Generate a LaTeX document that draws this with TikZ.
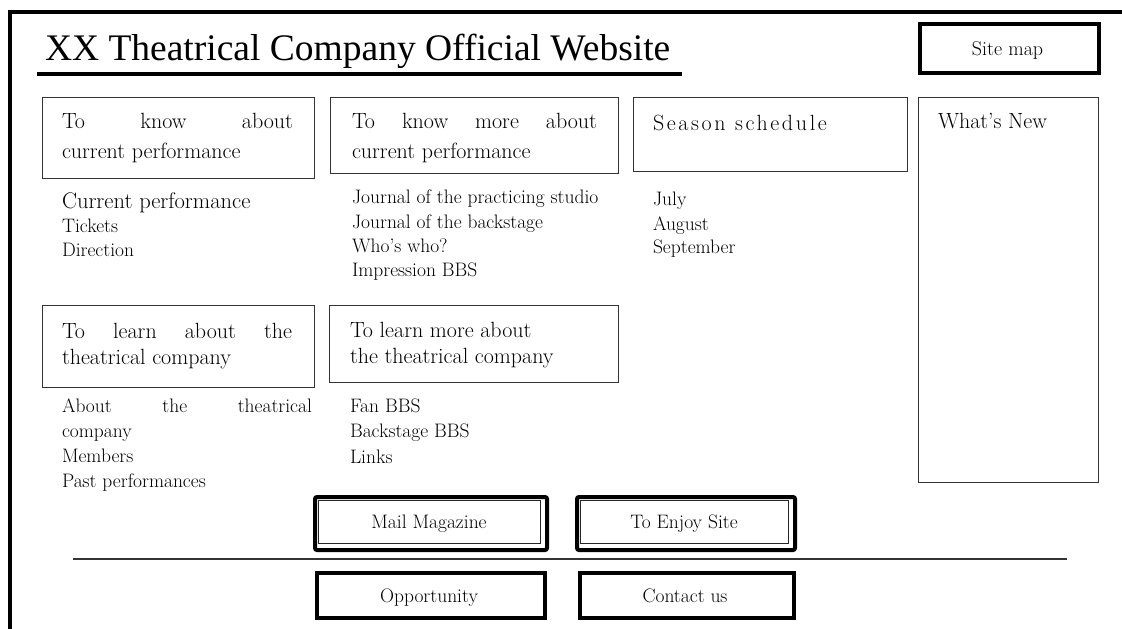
\documentclass[tikz,border=0pt]{standalone}
\usepackage{fontspec}
\newfontfamily\titlefont{Liberation Serif}
\newfontfamily\widefont[LetterSpace=12]{Latin Modern Roman}
\begin{document}
\begin{tikzpicture}[x=1pt,y=-1pt,
  panel/.style={draw=black!80, line width=1.3pt, inner sep=0pt, anchor=north west},
  heavybox/.style={draw=black, line width=3.5pt, inner sep=0pt, anchor=north west},
  roundbox/.style={draw=black, line width=4pt, rounded corners=2pt, inner sep=0pt, anchor=north west},
  innerbox/.style={draw=black!85, line width=1.1pt, inner sep=0pt, anchor=north west},
  lbl/.style={anchor=base west, inner sep=0pt, outer sep=0pt},
  head/.style={lbl, font=\fontsize{22}{26}\selectfont},
  item/.style={lbl, font=\fontsize{19.5}{24}\selectfont},
  bigitem/.style={lbl, font=\fontsize{22.5}{26}\selectfont},
  btntext/.style={anchor=base, inner sep=0pt, font=\fontsize{19.5}{24}\selectfont},
]
\useasboundingbox (0,0) rectangle (1122,629);
\clip (0,0) rectangle (1122,629);

% page frame (open towards the right and bottom)
\coordinate (fbl) at (10,640);
\coordinate (ftl) at (10,12);
\coordinate (ftr) at (1130,12);
\draw[line width=3.5pt] (fbl) -- (ftl) -- (ftr);

% heading with underline
\node[lbl, font=\titlefont\fontsize{37.5}{40}\selectfont] (title) at (45,60)
  {XX Theatrical Company Official Website};
\coordinate (ul1) at (37,74);
\coordinate (ul2) at (682,74);
\draw[line width=4pt] (ul1) -- (ul2);

% site map button
\node[heavybox, minimum width=179pt, minimum height=49pt] (sitemap) at (918,22) {};
\node[anchor=base, inner sep=0pt, font=\fontsize{20}{24}\selectfont] (sitemaptext) at (1007.5,55) {Site map};

% content panels
\node[panel, minimum width=272pt, minimum height=81pt] (curbox) at (42,97) {};
\node[panel, minimum width=288pt, minimum height=76pt] (morebox) at (330,97) {};
\node[panel, minimum width=274pt, minimum height=74pt] (seasonbox) at (633,97) {};
\node[panel, minimum width=180pt, minimum height=385pt] (newsbox) at (918,97) {};
\node[panel, minimum width=272pt, minimum height=82pt] (companybox) at (42,305) {};
\node[panel, minimum width=289pt, minimum height=77pt] (fanbox) at (329,305) {};

% panel headings
\node[head] (cur1) at (62,128) {\makebox[231pt][s]{To know about}};
\node[head] (cur2) at (62,158) {current performance};
\node[head] (more1) at (352,128) {\makebox[245pt][s]{To know more about}};
\node[head] (more2) at (352,158) {current performance};
\node[lbl, font=\widefont\fontsize{22}{26}\selectfont] (season) at (653,130) {Season schedule};
\node[head] (news) at (938,128) {What’s New};
\node[head] (comp1) at (62,338) {\makebox[230pt][s]{To learn about the}};
\node[head] (comp2) at (62,364) {theatrical company};
\node[head] (fan1) at (350,337) {To learn more about};
\node[head] (fan2) at (350,363) {the theatrical company};

% link lists
\node[bigitem] (l11) at (62,208) {Current performance};
\node[item] (l12) at (62,232) {Tickets};
\node[item] (l13) at (62,256) {Direction};

\node[item] (l21) at (352,203) {Journal of the practicing studio};
\node[item] (l22) at (352,228) {Journal of the backstage};
\node[item] (l23) at (352,252) {Who’s who?};
\node[item] (l24) at (352,276) {Impression BBS};

\node[item] (l31) at (653,205) {July};
\node[item] (l32) at (653,230) {August};
\node[item] (l33) at (653,253) {September};

\node[item] (l41) at (62,412) {\makebox[250pt][s]{About the theatrical}};
\node[item] (l42) at (62,437) {company};
\node[item] (l43) at (62,462) {Members};
\node[item] (l44) at (62,487) {Past performances};

\node[item] (l51) at (350,412) {Fan BBS};
\node[item] (l52) at (350,437) {Backstage BBS};
\node[item] (l53) at (350,463) {Links};

% double-framed buttons
\node[roundbox, minimum width=232pt, minimum height=53pt] (mailout) at (313,495) {};
\node[innerbox, minimum width=222pt, minimum height=43pt] (mailin) at (318,500) {};
\node[btntext] (mail) at (429,528) {Mail Magazine};

\node[roundbox, minimum width=218pt, minimum height=53pt] (enjoyout) at (575,495) {};
\node[innerbox, minimum width=208pt, minimum height=43pt] (enjoyin) at (580,500) {};
\node[btntext] (enjoy) at (684,528) {To Enjoy Site};

% separator rule
\coordinate (sep1) at (73,559);
\coordinate (sep2) at (1067,559);
\draw[line width=1.5pt, black!80] (sep1) -- (sep2);

% footer buttons
\node[heavybox, minimum width=228pt, minimum height=45pt] (opp) at (315,571) {};
\node[btntext] (opptext) at (429,602) {Opportunity};
\node[heavybox, minimum width=214pt, minimum height=45pt] (contact) at (578,571) {};
\node[btntext] (contacttext) at (685,602) {Contact us};
\end{tikzpicture}
\end{document}
